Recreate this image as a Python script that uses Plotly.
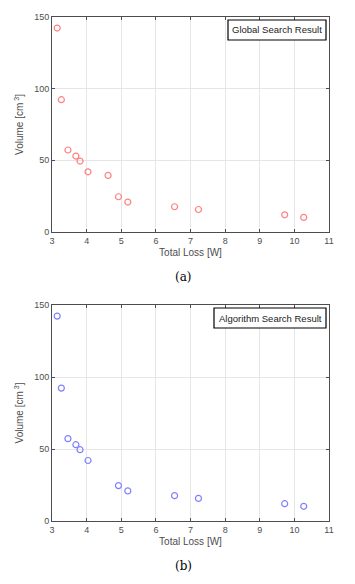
import plotly.graph_objects as go

loss_global = [3.15, 3.27, 3.46, 3.69, 3.81, 4.04, 4.62, 4.92, 5.19, 6.54, 7.23, 9.72, 10.27]
vol_global = [142.3, 92.3, 57.2, 53.0, 49.5, 42.0, 39.5, 24.6, 20.9, 17.6, 15.7, 12.0, 10.2]

loss_algo = [3.15, 3.27, 3.46, 3.69, 3.81, 4.04, 4.92, 5.19, 6.54, 7.23, 9.72, 10.27]
vol_algo = [142.3, 92.3, 57.2, 53.0, 49.5, 42.0, 24.6, 20.9, 17.6, 15.7, 12.0, 10.2]

x_ticks = [3, 4, 5, 6, 7, 8, 9, 10, 11]
y_ticks = [0, 50, 100, 150]

W, H = 355, 584
xd = [52 / W, 329 / W]
yd_top = [1 - 232 / H, 1 - 17 / H]
yd_bot = [1 - 521 / H, 1 - 305 / H]

fig = go.Figure()
fig.add_trace(go.Scatter(x=loss_global, y=vol_global, mode="markers", xaxis="x", yaxis="y",
                         marker=dict(symbol="circle-open", size=6, color="#ff8080", line=dict(width=1.2)),
                         showlegend=False))
fig.add_trace(go.Scatter(x=loss_algo, y=vol_algo, mode="markers", xaxis="x2", yaxis="y2",
                         marker=dict(symbol="circle-open", size=6, color="#8080ff", line=dict(width=1.2)),
                         showlegend=False))

axfont = dict(family="Liberation Sans, Arial", size=9, color="#4d4d4d")
titlefont = dict(family="Liberation Sans, Arial", size=10, color="#4d4d4d")
common_x = dict(range=[3, 11], tickvals=x_ticks, ticks="inside", ticklen=3, showline=True, mirror="ticks",
                linecolor="#4d4d4d", linewidth=1, showgrid=True, gridcolor="#e6e6e6", zeroline=False,
                tickfont=axfont, tickcolor="#4d4d4d", automargin=False,
                title=dict(text="Total Loss [W]", font=titlefont, standoff=4))
common_y = dict(range=[0, 150], tickvals=y_ticks, ticks="inside", ticklen=3, showline=True, mirror="ticks",
                linecolor="#4d4d4d", linewidth=1, showgrid=True, gridcolor="#e6e6e6", zeroline=False,
                tickfont=axfont, tickcolor="#4d4d4d", automargin=False,
                title=dict(text="Volume [cm<sup> 3</sup>]", font=titlefont, standoff=8))

fig.update_layout(
    width=W, height=H, margin=dict(l=0, r=0, t=0, b=0, autoexpand=False),
    paper_bgcolor="white", plot_bgcolor="white",
    xaxis=dict(domain=xd, anchor="y", **common_x),
    yaxis=dict(domain=yd_top, anchor="x", **common_y),
    xaxis2=dict(domain=xd, anchor="y2", **common_x),
    yaxis2=dict(domain=yd_bot, anchor="x2", **common_y),
    shapes=[
        dict(type="rect", xref="paper", yref="paper", x0=228 / W, x1=326 / W, y0=1 - 40 / H, y1=1 - 20 / H,
             line=dict(color="black", width=1.2), fillcolor="white", layer="above"),
        dict(type="rect", xref="paper", yref="paper", x0=214 / W, x1=326 / W, y0=1 - 328 / H, y1=1 - 308 / H,
             line=dict(color="black", width=1.2), fillcolor="white", layer="above"),
    ],
    annotations=[
        dict(text="Global Search Result", xref="paper", yref="paper", x=277 / W, y=1 - 30 / H,
             xanchor="center", yanchor="middle",
             showarrow=False, font=dict(family="Liberation Sans, Arial", size=9.5, color="#222")),
        dict(text="Algorithm Search Result", xref="paper", yref="paper", x=270 / W, y=1 - 318 / H,
             xanchor="center", yanchor="middle",
             showarrow=False, font=dict(family="Liberation Sans, Arial", size=9.5, color="#222")),
        dict(text="(a)", xref="paper", yref="paper", x=183 / W, y=1 - 277 / H, showarrow=False,
             xanchor="center", yanchor="middle",
             font=dict(family="DejaVu Serif, Liberation Serif", size=12, color="black")),
        dict(text="(b)", xref="paper", yref="paper", x=183 / W, y=1 - 566 / H, showarrow=False,
             xanchor="center", yanchor="middle",
             font=dict(family="DejaVu Serif, Liberation Serif", size=12, color="black")),
    ],
)

fig.write_html("out.html", config={"displayModeBar": False},
               post_script="document.body.style.margin='0';")
